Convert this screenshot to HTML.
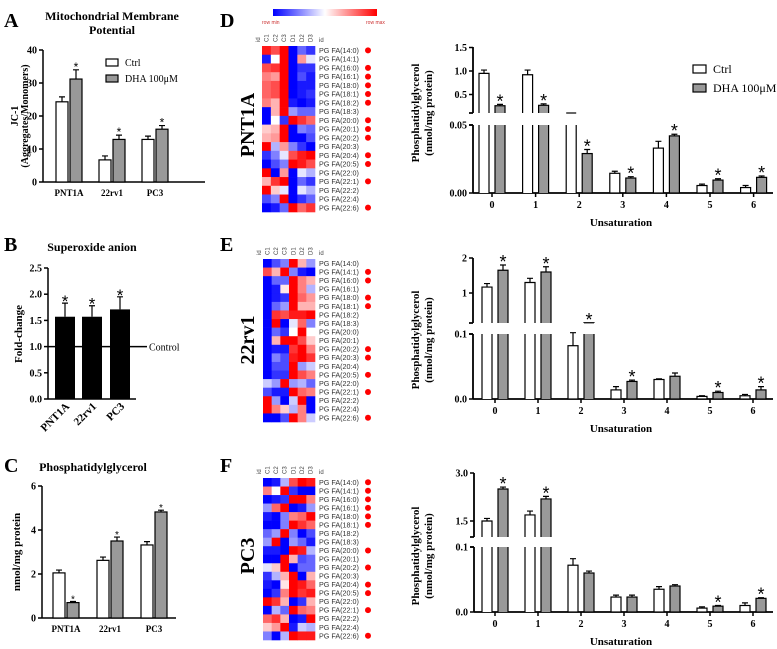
<!DOCTYPE html>
<html><head><meta charset="utf-8"><style>
html,body{margin:0;padding:0;background:#fff}
svg{display:block;font-family:"Liberation Serif",serif}
.hm{font-family:"Liberation Sans",sans-serif}
</style></head><body>
<svg id="fig" width="777" height="649" viewBox="0 0 777 649" xmlns="http://www.w3.org/2000/svg">
<defs><linearGradient id="cb" x1="0" x2="1"><stop offset="0" stop-color="#0000ff"/><stop offset="0.5" stop-color="#ffffff"/><stop offset="1" stop-color="#ff0000"/></linearGradient></defs>
<g font-weight="bold" font-size="20">
<text x="4" y="27">A</text>
<text x="4" y="251">B</text>
<text x="4" y="472">C</text>
<text x="220" y="27">D</text>
<text x="220" y="251">E</text>
<text x="220" y="472">F</text>
</g>
<g font-weight="bold" font-size="12" text-anchor="middle">
<text x="112" y="20">Mitochondrial Membrane</text>
<text x="112" y="34">Potential</text>
<text x="92" y="251">Superoxide anion</text>
<text x="93" y="471">Phosphatidylglycerol</text>
</g>
<g font-weight="bold" font-size="20" text-anchor="middle">
<text transform="translate(254,125) rotate(-90)">PNT1A</text>
<text transform="translate(254,340) rotate(-90)">22rv1</text>
<text transform="translate(254,556) rotate(-90)">PC3</text>
</g>
<g id="gA"></g><g id="gB"></g><g id="gC"></g>
<g id="hD" class="hm"></g><g id="hE" class="hm"></g><g id="hF" class="hm"></g>
<g id="cD"></g><g id="cE"></g><g id="cF"></g>
<rect x="273" y="9" width="104" height="7" fill="url(#cb)"/>
<text x="262" y="24" font-size="5" fill="#c33" font-family="Liberation Sans,sans-serif">row min</text>
<text x="366" y="24" font-size="5" fill="#c33" font-family="Liberation Sans,sans-serif">row max</text>
</svg>
<script>
// ---- Panel A data ----
const aCats=["PNT1A","22rv1","PC3"];
const aCtrl=[24.3,6.7,12.9], aCtrlErr=[1.5,1.2,1.0];
const aDha=[31.2,12.9,16.0], aDhaErr=[2.8,1.3,1.1];
const aTicks=[0,10,20,30,40];
// ---- Panel B data ----
const bCats=["PNT1A","22rv1","PC3"];
const bVals=[1.57,1.57,1.71], bErr=[0.26,0.21,0.24];
const bTicks=["0.0","0.5","1.0","1.5","2.0","2.5"];
// ---- Panel C data ----
const cCats=["PNT1A","22rv1","PC3"];
const cCtrl=[2.05,2.62,3.32], cCtrlErr=[0.13,0.15,0.15];
const cDha=[0.70,3.5,4.82], cDhaErr=[0.05,0.18,0.08];
const cTicks=[0,2,4,6];
// ---- Heatmaps ----
const lipids=["14:0","14:1","16:0","16:1","18:0","18:1","18:2","18:3","20:0","20:1","20:2","20:3","20:4","20:5","22:0","22:1","22:2","22:4","22:6"];
const hmCols=["C1","C2","C3","D1","D2","D3"];
const hmD=[[0.9,0.7,1,-1,-0.6,-0.8],[-0.9,0,1,-1,0.4,-0.1],[0.7,0.8,1,-1,-0.8,-0.8],[0.5,0.4,1,-1,-0.7,-0.9],[0.6,0.7,1,-1,-0.9,-0.9],[0.6,0.7,1,-1,-0.9,-0.8],[0.5,0.3,1,-0.9,-1,-0.9],[-1,0.3,1,-0.4,-0.6,-0.6],[-1,0,-0.8,1,0.8,0.6],[0.2,0.3,1,-1,-0.5,-0.6],[0.3,0.4,1,-1,-1,-0.7],[1,-0.3,0.4,-0.5,-0.8,-1],[-0.8,-0.5,-0.1,0.7,0.9,1],[-1,-0.7,-0.5,1,0.9,0.7],[1,-1,0.4,-1,-0.1,-0.3],[0.3,0.8,1,-1,-0.6,-0.8],[1,0.2,-0.1,-1,-0.1,-0.3],[-0.7,-0.5,1,-1,-0.8,-0.6],[-1,-0.9,-0.6,1,0.6,0.8]];
const hmE=[[-1,-0.7,-0.5,1,0.3,-0.4],[0.7,0.3,1,-0.5,-0.9,-1],[-1,-0.6,-0.6,1,0.5,0.3],[-1,-0.9,0.1,1,0.5,-0.3],[-1,-0.9,-0.8,1,0.6,0.4],[-1,-0.6,-0.4,1,0.3,0.3],[-1,0.8,0.7,0.9,0.9,1],[-1,1,-1,-0.1,0.6,-0.5],[-1,-0.6,-0.8,0,1,0],[-1,0.3,1,1,0.7,0.2],[-1,-0.9,-0.9,0.8,1,0.5],[-1,-0.5,-0.7,0.9,1,0.8],[-1,-0.7,-0.7,1,-0.4,-0.2],[-1,-0.8,-0.8,1,0.7,0.5],[-0.2,-0.4,1,-0.4,-0.3,-0.6],[-0.7,-0.9,-0.9,1,0.6,0.5],[1,-0.4,-1,-0.2,1,-1],[1,0.5,0.2,-0.3,0.5,-1],[-1,-1,-0.7,1,0.5,-0.2]];
const hmF=[[-1,-0.9,-0.3,0.7,1,0.9],[0.5,0,1,-0.8,-1,-1],[-1,-0.9,-0.8,1,1,0.5],[-0.4,0.6,1,-1,-0.9,-0.4],[-0.9,-1,-0.5,0.5,0.6,1],[-1,-1,-0.5,1,0.8,0.6],[-0.6,-0.4,1,-0.5,-1,-0.7],[-0.4,1,-1,-0.4,-0.6,-0.9],[-0.9,-0.9,-1,1,0.9,-0.3],[-1,-1,1,0.3,-0.7,-0.6],[-0.1,0.2,1,-1,-0.6,-0.6],[-0.8,-0.3,0.3,1,-1,0.3],[-0.9,-1,0.1,1,0.9,0.6],[-1,-0.8,0.5,1,0.8,0.9],[1,0.8,0.3,-1,-0.8,0.3],[-1,-0.3,-0.6,1,0.6,0.5],[0.6,0.8,0.3,-1,-0.9,1],[0.2,0.4,1,-0.9,-0.2,-0.3],[-0.5,-1,-0.3,1,0.9,0.9]];
const dotsD=[1,0,1,1,1,1,1,0,1,1,1,0,1,1,0,1,0,0,1];
const dotsE=[0,1,1,0,1,1,0,0,0,0,1,1,0,1,0,1,0,0,1];
const dotsF=[1,1,1,1,1,1,0,0,1,0,1,0,1,1,0,1,0,0,1];
// ---- Unsaturation charts ----
const unsatCats=["0","1","2","3","4","5","6"];
const dCtrl=[0.95,0.92,0.10,0.0145,0.033,0.0055,0.004], dCtrlErr=[0.07,0.1,0,0.0015,0.005,0.001,0.0015];
const dDha=[0.26,0.27,0.029,0.011,0.042,0.0095,0.0115], dDhaErr=[0.03,0.03,0.003,0.001,0.0012,0.001,0.001];
const dStars=[1,1,1,1,1,1,1];
const eCtrl=[1.17,1.3,0.082,0.014,0.03,0.004,0.005], eCtrlErr=[0.1,0.12,0.02,0.005,0.001,0.001,0.002];
const eDha=[1.65,1.6,0.15,0.027,0.035,0.01,0.014], eDhaErr=[0.15,0.15,0,0.002,0.005,0.002,0.005];
const eStars=[1,1,1,1,0,1,1];
const fCtrl=[1.5,1.69,0.072,0.023,0.035,0.006,0.01], fCtrlErr=[0.08,0.12,0.01,0.003,0.004,0.002,0.004];
const fDha=[2.5,2.19,0.06,0.023,0.04,0.009,0.021], fDhaErr=[0.06,0.08,0.003,0.003,0.002,0.001,0.001];
const fStars=[1,1,0,0,0,1,1];

const NS="http://www.w3.org/2000/svg";
function mk(parent,tag,attrs,txt){const e=document.createElementNS(NS,tag);for(const k in attrs)e.setAttribute(k,attrs[k]);if(txt!==undefined)e.textContent=txt;parent.appendChild(e);return e;}
const GREY="#999";
function errBar(g,cx,y1,y2){
  const l=mk(g,"path",{d:`M${cx},${y1}V${y2}M${cx-3},${y2}H${cx+3}`,stroke:"#000","stroke-width":1.2,fill:"none"});
  
  
}
function star(g,x,y,fs){
  const t=mk(g,"text",{x:x,y:y,"text-anchor":"middle","font-size":fs,"font-family":"Liberation Sans,sans-serif"},"*");
  
  
}

function grouped(g,o){
  const ys=v=>o.y0-(v/o.vmax)*(o.y0-o.y1);
  o.ticks.forEach(t=>{const y=ys(t);mk(g,"line",{x1:o.ax-4,x2:o.ax,y1:y,y2:y,stroke:"#000","stroke-width":1.5});
    const tl=mk(g,"text",{x:o.ax-6,y:y+3.5,"text-anchor":"end","font-size":10,"font-weight":"bold"},t);
    
    });
  const ya=mk(g,"line",{x1:o.ax,x2:o.ax,y1:o.y1,y2:o.y0,stroke:"#000","stroke-width":1.5});
  
  
  const xa=mk(g,"line",{x1:o.ax,x2:o.xe,y1:o.y0,y2:o.y0,stroke:"#000","stroke-width":1.5});
  
  
  o.cats.forEach((c,i)=>{
    const cx=o.centers[i];
    [[o.ctrl,o.ce,"#fff",-o.bw-1,"bar-ctrl"],[o.dha,o.de,GREY,1,"bar-dha"]].forEach(([vals,errs,fill,off,nm],k)=>{
      const x=cx+off, y=ys(vals[i]);
      errBar(g,x+o.bw/2,y,ys(vals[i]+errs[i]));
      const r=mk(g,"rect",{x:x,y:y,width:o.bw,height:o.y0-y,fill:fill,stroke:"#000","stroke-width":1.2});
      
      
      if(k==1) star(g,x+o.bw/2,ys(vals[i]+errs[i])+1,o.sfs);
    });
    const lb=mk(g,"text",{x:cx,y:o.y0+14,"text-anchor":"middle","font-size":9,"font-weight":"bold"},c);
    
    
  });
}
const gA=document.getElementById("gA");
grouped(gA,{ax:43,xe:205,y0:182,y1:50,vmax:40,ticks:aTicks,cats:aCats,centers:[69,112,155],ctrl:aCtrl,ce:aCtrlErr,dha:aDha,de:aDhaErr,bw:12,sfs:12});
mk(gA,"rect",{x:106,y:59,width:12,height:7,fill:"#fff",stroke:"#000","stroke-width":1.2,});
mk(gA,"text",{x:125,y:66,"font-size":10,},"Ctrl");
mk(gA,"rect",{x:106,y:75,width:12,height:7,fill:GREY,stroke:"#000","stroke-width":1.2,});
mk(gA,"text",{x:125,y:82,"font-size":10,},"DHA 100μM");
mk(gA,"text",{transform:"translate(18,116) rotate(-90)","text-anchor":"middle","font-size":10,"font-weight":"bold",},"JC-1");
mk(gA,"text",{transform:"translate(28,116) rotate(-90)","text-anchor":"middle","font-size":10,"font-weight":"bold",},"(Aggregates/Monomers)");

const gC=document.getElementById("gC");
grouped(gC,{ax:42,xe:176,y0:618,y1:486,vmax:6,ticks:cTicks,cats:cCats,centers:[66,110,154],ctrl:cCtrl,ce:cCtrlErr,dha:cDha,de:cDhaErr,bw:12,sfs:10});
mk(gC,"text",{transform:"translate(20,552) rotate(-90)","text-anchor":"middle","font-size":11,"font-weight":"bold",},"nmol/mg protein");

(function(){
  const g=document.getElementById("gB");
  const y0=399,y1=268,vmax=2.5,ax=48;
  const ys=v=>y0-(v/vmax)*(y0-y1);
  bTicks.forEach(t=>{const y=ys(+t);mk(g,"line",{x1:ax-4,x2:ax,y1:y,y2:y,stroke:"#000","stroke-width":1.5});
    const tl=mk(g,"text",{x:ax-6,y:y+3.5,"text-anchor":"end","font-size":10,"font-weight":"bold"},t);
    
    });
  mk(g,"line",{x1:ax,x2:ax,y1:y1,y2:y0,stroke:"#000","stroke-width":1.5,});
  mk(g,"line",{x1:ax,x2:136,y1:y0,y2:y0,stroke:"#000","stroke-width":1.5,});
  const centers=[65,92,120];
  bCats.forEach((c,i)=>{
    const cx=centers[i],y=ys(bVals[i]);
    errBar(g,cx,y,ys(bVals[i]+bErr[i]));
    const r=mk(g,"rect",{x:cx-10,y:y,width:20,height:y0-y,fill:"#000"});
    
    
    star(g,cx,ys(bVals[i]+bErr[i])+4,17);
    const lb=mk(g,"text",{transform:`translate(${cx+5},${y0+8}) rotate(-45)`,"text-anchor":"end","font-size":11,"font-weight":"bold"},c);
    
    
  });
  mk(g,"line",{x1:ax,x2:147,y1:ys(1),y2:ys(1),stroke:"#000","stroke-width":1.5,});
  mk(g,"text",{x:149,y:ys(1)+4,"font-size":10,},"Control");
  mk(g,"text",{transform:"translate(22,334) rotate(-90)","text-anchor":"middle","font-size":11,"font-weight":"bold",},"Fold-change");
})();

function color(v){const a=Math.min(1,Math.abs(v));const c=Math.round(255*(1-a));return v<0?`rgb(${c},${c},255)`:`rgb(255,${c},${c})`;}
function heat(id,data,dots,x0,y0,x1,y1,hy){
  const g=document.getElementById(id);
  const cw=(x1-x0)/6,rh=(y1-y0)/data.length;
  mk(g,"text",{transform:`translate(${x0-2},${hy}) rotate(-90)`,"font-size":6,fill:"#444"},"id");
  hmCols.forEach((c,j)=>{const t=mk(g,"text",{transform:`translate(${x0+cw*j+cw/2+2},${hy}) rotate(-90)`,"font-size":6,fill:"#444"},c);
    
    });
  mk(g,"text",{x:x1+4,y:hy,"font-size":6,fill:"#444"},"id");
  data.forEach((row,i)=>{
    row.forEach((v,j)=>{
      const r=mk(g,"rect",{x:x0+cw*j,y:y0+rh*i,width:cw+0.3,height:rh+0.3,fill:color(v)});
      
      
    });
    const t=mk(g,"text",{x:x1+4,y:y0+rh*i+rh*0.8,"font-size":7.2,fill:"#333"},"PG FA("+lipids[i]+")");
    
    
    if(dots[i]){const d=mk(g,"circle",{cx:x1+53,cy:y0+rh*i+rh/2,r:3,fill:"#f00"});
      
      }
  });
}
heat("hD",hmD,dotsD,262,46,315,212,42);
heat("hE",hmE,dotsE,263,259,315,422,255);
heat("hF",hmF,dotsF,263,478,315,640,474);

function broken(id,o,ctrl,ce,dha,de,stars){
  const g=document.getElementById(id);
  const yB=v=>o.b0-(v/o.bmax)*(o.b0-o.bTop);
  const yT=v=>o.tRefY-(v-o.tRef)*o.tK;
  const ax=o.ax;
  mk(g,"path",{d:`M${ax},${o.tTopY}V${o.tBot}M${ax-4},${o.tBot}H${ax}`,stroke:"#000","stroke-width":1.8,fill:"none",});
  mk(g,"path",{d:`M${ax},${o.bTop}V${o.b0}M${ax-4},${o.bTop}H${ax}`,stroke:"#000","stroke-width":1.8,fill:"none",});
  mk(g,"line",{x1:ax,x2:773,y1:o.b0,y2:o.b0,stroke:"#000","stroke-width":1.8,});
  o.tTicks.forEach(t=>{const y=yT(+t);mk(g,"line",{x1:ax-4,x2:ax,y1:y,y2:y,stroke:"#000","stroke-width":1.5});
    const l=mk(g,"text",{x:ax-6,y:y+3.5,"text-anchor":"end","font-size":10,"font-weight":"bold"},t);
    
    });
  o.bTicks.forEach(t=>{const y=yB(+t);mk(g,"line",{x1:ax-4,x2:ax,y1:y,y2:y,stroke:"#000","stroke-width":1.5});
    const l=mk(g,"text",{x:ax-6,y:y+3.5,"text-anchor":"end","font-size":10,"font-weight":"bold"},t);
    
    });
  unsatCats.forEach((c,i)=>{
    const cx=o.c0+i*o.step;
    mk(g,"line",{x1:cx,x2:cx,y1:o.b0,y2:o.b0+4,stroke:"#000","stroke-width":1.5});
    const lb=mk(g,"text",{x:cx,y:o.b0+15,"text-anchor":"middle","font-size":10,"font-weight":"bold"},c);
    
    
    [[ctrl,ce,"#fff",-13,"bar-ctrl"],[dha,de,GREY,3,"bar-dha"]].forEach(([vals,errs,fill,off,nm],k)=>{
      const x=cx+off,w=10,v=vals[i],e=errs[i];let topY;
      if(v<=o.bmax){
        topY=yB(v);
        if(e>0)errBar(g,x+w/2,topY,yB(v+e));
        const r=mk(g,"rect",{x:x,y:topY,width:w,height:o.b0-topY,fill:fill,stroke:"#000","stroke-width":1.2});
        
        
        topY=yB(v+e);
      } else {
        const r=mk(g,"path",{d:`M${x},${o.bTop}V${o.b0}H${x+w}V${o.bTop}Z`,fill:fill,stroke:"none"});
        
        
        mk(g,"path",{d:`M${x},${o.bTop}V${o.b0}M${x+w},${o.b0}V${o.bTop}`,stroke:"#000","stroke-width":1.2,fill:"none"});
        const ty=Math.min(yT(v),o.tBot);
        if(e>0)errBar(g,x+w/2,ty,yT(v+e));
        const r2=mk(g,"path",{d:`M${x},${o.tBot}V${ty}H${x+w}V${o.tBot}Z`,fill:fill,stroke:"none"});
        
        
        mk(g,"path",{d:`M${x},${o.tBot}V${ty}H${x+w}V${o.tBot}`,stroke:"#000","stroke-width":1.2,fill:"none"});
        topY=e>0?yT(v+e):ty;
      }
      if(k==1&&stars[i]) star(g,x+w/2,topY+3,18);
    });
  });
  mk(g,"text",{transform:`translate(419,${o.labY}) rotate(-90)`,"text-anchor":"middle","font-size":11,"font-weight":"bold",},"Phosphatidylglycerol");
  mk(g,"text",{transform:`translate(432,${o.labY}) rotate(-90)`,"text-anchor":"middle","font-size":11,"font-weight":"bold",},"(nmol/mg protein)");
  mk(g,"text",{x:621,y:o.b0+33,"text-anchor":"middle","font-size":11,"font-weight":"bold",},"Unsaturation");
}
broken("cD",{ax:473,b0:193,bTop:125,bmax:0.05,tTopY:47,tBot:113,tRef:1.0,tRefY:71,tK:47,tTicks:["1.5","1.0","0.5"],bTicks:["0.05","0.00"],c0:492,step:43.6,labY:113},dCtrl,dCtrlErr,dDha,dDhaErr,dStars);
broken("cE",{ax:473,b0:399,bTop:334,bmax:0.1,tTopY:258,tBot:323,tRef:1,tRefY:293,tK:35,tTicks:["2","1"],bTicks:["0.1","0.0"],c0:495,step:43,labY:340},eCtrl,eCtrlErr,eDha,eDhaErr,eStars);
broken("cF",{ax:474,b0:612,bTop:547,bmax:0.1,tTopY:473,tBot:537,tRef:1.5,tRefY:521,tK:32,tTicks:["3.0","1.5"],bTicks:["0.1","0.0"],c0:495,step:43,labY:556},fCtrl,fCtrlErr,fDha,fDhaErr,fStars);
(function(){const g=document.getElementById("cD");
mk(g,"rect",{x:693,y:65,width:13,height:8,fill:"#fff",stroke:"#000","stroke-width":1.2,});
mk(g,"text",{x:713,y:73,"font-size":12,},"Ctrl");
mk(g,"rect",{x:693,y:84,width:13,height:8,fill:GREY,stroke:"#000","stroke-width":1.2,});
mk(g,"text",{x:713,y:92,"font-size":12,},"DHA 100μM");})();
</script>
</body></html>
